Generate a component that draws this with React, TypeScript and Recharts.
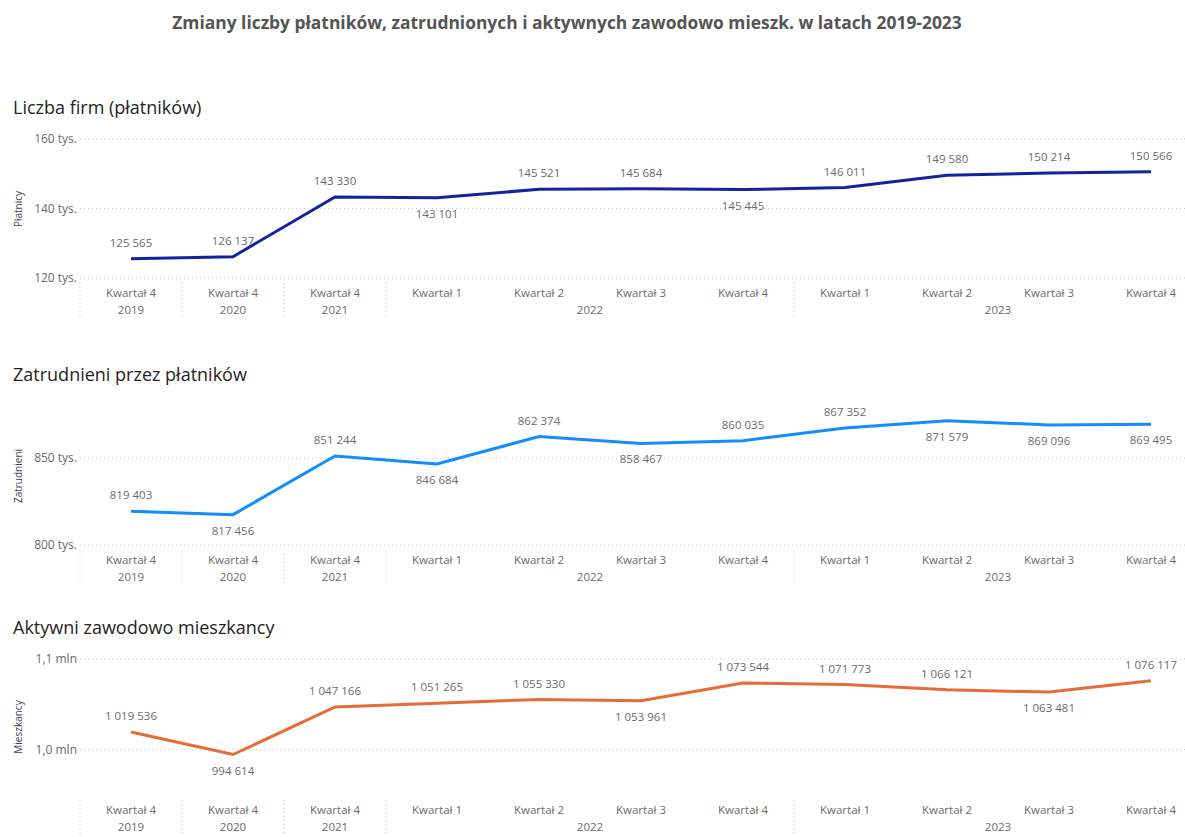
import React from 'react';
import { LineChart, Line, XAxis, YAxis, ReferenceLine, LabelList } from 'recharts';

const quarters = ['Kwartał 4', 'Kwartał 4', 'Kwartał 4', 'Kwartał 1', 'Kwartał 2', 'Kwartał 3', 'Kwartał 4', 'Kwartał 1', 'Kwartał 2', 'Kwartał 3', 'Kwartał 4'];
const years = ['2019', '2020', '2021', '2022', '2022', '2022', '2022', '2023', '2023', '2023', '2023'];

const platnicy = [125565, 126137, 143330, 143101, 145521, 145684, 145445, 146011, 149580, 150214, 150566];
const zatrudnieni = [819403, 817456, 851244, 846684, 862374, 858467, 860035, 867352, 871579, 869096, 869495];
const mieszkancy = [1019536, 994614, 1047166, 1051265, 1055330, 1053961, 1073544, 1071773, 1066121, 1063481, 1076117];

const platnicyTicks = [120000, 140000, 160000];
const zatrudnieniTicks = [800000, 850000];
const mieszkancyTicks = [1000000, 1100000];

// where the value label sits: 1 above the line, -1 below
const platnicySide = [1, 1, 1, -1, 1, 1, -1, 1, 1, 1, 1];
const zatrudnieniSide = [1, -1, 1, -1, 1, -1, 1, 1, -1, -1, -1];
const mieszkancySide = [1, -1, 1, 1, 1, -1, 1, 1, 1, -1, 1];

const rows = quarters.map((q, i) => ({ i, p: platnicy[i], z: zatrudnieni[i], m: mieszkancy[i] }));

// year groups -> centred year label + dotted separator before each group
const groups: { year: string; from: number; to: number }[] = [];
years.forEach((y, i) => {
  const last = groups[groups.length - 1];
  if (last && last.year === y) last.to = i;
  else groups.push({ year: y, from: i, to: i });
});
const yearAt = new Map(groups.map((g) => [(g.from + g.to) / 2, g.year]));
const separators = new Set(groups.map((g) => g.from - 0.5));
const xTicks = Array.from(new Set([...quarters.map((_, i) => i), ...yearAt.keys(), ...separators])).sort((a, b) => a - b);

const FONT = '"Open Sans", "Segoe UI", sans-serif';
const GRID = '#c8c8c8';
const TXT = '#6b6b6b';

const spaced = (v: number) => String(v).replace(/\B(?=(\d{3})+(?!\d))/g, ' ');
const tys = (v: number) => `${v / 1000} tys.`;
const mln = (v: number) => `${(v / 1000000).toFixed(1).replace('.', ',')} mln`;

const AxisTick = (props: any) => {
  const { x, y, payload } = props;
  const v = payload.value;
  return (
    <g>
      {separators.has(v) && (
        <line x1={x} x2={x} y1={y + 5} y2={y + 43} stroke={GRID} strokeDasharray="1 3" />
      )}
      {Number.isInteger(v) && quarters[v] && (
        <text x={x} y={y + 19} textAnchor="middle" fill={TXT} fontSize={11.5} fontFamily={FONT}>
          {quarters[v]}
        </text>
      )}
      {yearAt.has(v) && (
        <text x={x} y={y + 36} textAnchor="middle" fill={TXT} fontSize={11.5} fontFamily={FONT}>
          {yearAt.get(v)}
        </text>
      )}
    </g>
  );
};

const makeLabel = (side: number[]) => (props: any) => {
  const { x, y, value, index } = props;
  const up = side[index] > 0;
  return (
    <text x={x} y={up ? y - 12 : y + 20} textAnchor="middle" fill={TXT} fontSize={11.5} fontFamily={FONT}>
      {spaced(value)}
    </text>
  );
};

interface PanelProps {
  top: number;
  title: string;
  yLabel: string;
  dataKey: string;
  color: string;
  domain: [number, number];
  ticks: number[];
  fmt: (v: number) => string;
  side: number[];
  plotHeight: number;
}

const Panel: React.FC<PanelProps> = ({ top, title, yLabel, dataKey, color, domain, ticks, fmt, side, plotHeight }) => {
  const height = 14 + plotHeight + 40;
  return (
    <>
      <div style={{ position: 'absolute', left: 13, top: top - 28, fontSize: 18, lineHeight: '20px', color: '#252423', fontFamily: FONT }}>
        {title}
      </div>
      <div
        style={{
          position: 'absolute',
          left: 18,
          top: top + 14 + plotHeight / 2,
          transform: 'translate(-50%, -50%) rotate(-90deg)',
          fontSize: 10,
          color: '#444',
          fontFamily: FONT,
          whiteSpace: 'nowrap',
        }}
      >
        {yLabel}
      </div>
      <div style={{ position: 'absolute', left: 0, top }}>
        <LineChart width={1230} height={height} data={rows} margin={{ top: 14, right: 28, bottom: 0, left: 0 }}>
          <XAxis
            dataKey="i"
            type="number"
            domain={[-0.5, quarters.length - 0.5]}
            ticks={xTicks}
            interval={0}
            axisLine={false}
            tickLine={false}
            tickSize={0}
            tickMargin={0}
            height={40}
            tick={<AxisTick />}
          />
          <YAxis
            type="number"
            domain={domain}
            ticks={ticks}
            interval={0}
            width={80}
            axisLine={false}
            tickLine={false}
            tickSize={0}
            tickMargin={3}
            tickFormatter={fmt}
            tick={{ fill: TXT, fontSize: 12, fontFamily: FONT }}
          />
          {/* dotted gridlines only at the labelled ticks */}
          {ticks.map((t) => (
            <ReferenceLine key={t} y={t} stroke={GRID} strokeDasharray="1 3" />
          ))}
          <Line type="linear" dataKey={dataKey} stroke={color} strokeWidth={3} dot={false} isAnimationActive={false}>
            <LabelList dataKey={dataKey} content={makeLabel(side)} />
          </Line>
        </LineChart>
      </div>
    </>
  );
};

export default function App() {
  return (
    <div style={{ position: 'absolute', left: 0, top: 0, width: 1185, height: 837, overflow: 'hidden', background: '#fff', fontFamily: FONT }}>
      <div style={{ position: 'absolute', left: 0, width: 1134, top: 12, textAlign: 'center', fontSize: 17.4, fontWeight: 700, color: '#555', lineHeight: '20px' }}>
        Zmiany liczby płatników, zatrudnionych i aktywnych zawodowo mieszk. w latach 2019-2023
      </div>
      <Panel
        top={125}
        title="Liczba firm (płatników)"
        yLabel="Płatnicy"
        dataKey="p"
        color="#12239E"
        domain={[120000, 160000]}
        ticks={platnicyTicks}
        fmt={tys}
        side={platnicySide}
        plotHeight={139}
      />
      <Panel
        top={392}
        title="Zatrudnieni przez płatników"
        yLabel="Zatrudnieni"
        dataKey="z"
        color="#118DFF"
        domain={[800000, 880000]}
        ticks={zatrudnieniTicks}
        fmt={tys}
        side={zatrudnieniSide}
        plotHeight={139}
      />
      <Panel
        top={645}
        title="Aktywni zawodowo mieszkancy"
        yLabel="Mieszkancy"
        dataKey="m"
        color="#E66C37"
        domain={[950000, 1100000]}
        ticks={mieszkancyTicks}
        fmt={mln}
        side={mieszkancySide}
        plotHeight={136}
      />
    </div>
  );
}
